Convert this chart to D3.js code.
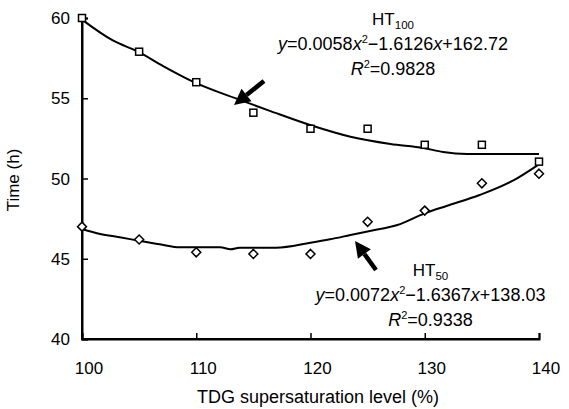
<!DOCTYPE html>
<html><head><meta charset="utf-8">
<script src="https://cdn.jsdelivr.net/npm/d3@7"></script>
<style>
html,body{margin:0;padding:0;background:#fff;}
svg text{font-family:"Liberation Sans",Arial,sans-serif;fill:#000;}
</style></head>
<body><svg id="c" width="569" height="409"></svg>
<script>
// ---- data ----
const xLevels = [100,105,110,115,120,125,130,135,140];
const ht100 = [60.0,57.9,56.0,54.1,53.1,53.1,52.1,52.1,51.05];
const ht50  = [47.0,46.2,45.4,45.3,45.3,47.3,48.0,49.7,50.3];
// fitted trend lines
const fit100X = [100,102.7,104.9,107.1,109.8,113.8,116.5,120.1,123.5,127.0,129.9,131.6,133.7,140];
const fit100Y = [59.9,58.6,57.9,57.0,56.0,54.9,54.2,53.3,52.6,52.15,51.9,51.65,51.53,51.53];
const fit50X = [100,101.6,103.3,105.0,106.8,108.6,112.1,113.0,113.8,117.0,120.0,121.7,123.5,125.2,127.6,130.0,131.9,134.8,137.8,139.9];
const fit50Y = [46.85,46.54,46.34,46.12,45.9,45.71,45.71,45.59,45.69,45.69,46.0,46.21,46.48,46.73,47.1,47.83,48.29,48.97,49.9,50.84];
const xTicks = [100,110,120,130,140];
const yTicks = [40,45,50,55,60];

const svg = d3.select("#c");
const x = d3.scaleLinear().domain([100,140]).range([82,539]);
const y = d3.scaleLinear().domain([40,60]).range([339,18]);

// axes
const xAxis = svg.append("g").attr("transform","translate(0,339)")
  .call(d3.axisBottom(x).tickValues(xTicks).tickSize(-6).tickPadding(0).tickFormat(()=>""));
const yAxis = svg.append("g").attr("transform","translate(82,0)")
  .call(d3.axisLeft(y).tickValues(yTicks).tickSize(-6).tickFormat(()=>""));
[xAxis,yAxis].forEach(g=>{
  g.select(".domain").attr("stroke","#000").attr("stroke-width",2);
  g.selectAll(".tick line").attr("stroke","#000").attr("stroke-width",1.5);
});
svg.append("line").attr("x1",81).attr("x2",540).attr("y1",339).attr("y2",339).attr("stroke","#000").attr("stroke-width",2);
svg.append("line").attr("x1",82).attr("x2",82).attr("y1",18).attr("y2",340).attr("stroke","#000").attr("stroke-width",2);

// tick labels
svg.append("g").selectAll("text").data(xTicks).join("text")
  .attr("x",d=>x(d)+7).attr("y",374).attr("text-anchor","middle")
  .attr("font-size",17).text(d=>d);
svg.append("g").selectAll("text").data(yTicks).join("text")
  .attr("x",70).attr("y",d=>y(d)+6).attr("text-anchor","end")
  .attr("font-size",17).text(d=>d);

// axis titles
svg.append("text").attr("x",318).attr("y",403).attr("text-anchor","middle")
  .attr("font-size",18).text("TDG supersaturation level (%)");
svg.append("text").attr("transform","translate(19,180) rotate(-90)")
  .attr("text-anchor","middle").attr("font-size",17).text("Time (h)");

// fit lines
const line = d3.line().curve(d3.curveMonotoneX).x(d=>x(d[0])).y(d=>y(d[1]));
svg.append("path").datum(d3.zip(fit100X,fit100Y)).attr("d",line)
  .attr("fill","none").attr("stroke","#000").attr("stroke-width",2);
svg.append("path").datum(d3.zip(fit50X,fit50Y)).attr("d",line)
  .attr("fill","none").attr("stroke","#000").attr("stroke-width",2);

// markers
svg.append("g").selectAll("rect").data(d3.zip(xLevels,ht100)).join("rect")
  .attr("x",d=>x(d[0])-3.5).attr("y",d=>y(d[1])-3.5).attr("width",7).attr("height",7)
  .attr("fill","#fff").attr("stroke","#000").attr("stroke-width",1.5);
svg.append("g").selectAll("path").data(d3.zip(xLevels,ht50)).join("path")
  .attr("transform",d=>`translate(${x(d[0])},${y(d[1])})`)
  .attr("d","M0,-4.5L4.5,0L0,4.5L-4.5,0Z")
  .attr("fill","#fff").attr("stroke","#000").attr("stroke-width",1.5);

// arrows
function arrow(x1,y1,x2,y2){ // tail -> tip
  const ang = Math.atan2(y2-y1,x2-x1);
  const L=16, W=8;
  const bx = x2 - L*Math.cos(ang), by = y2 - L*Math.sin(ang);
  svg.append("line").attr("x1",x1).attr("y1",y1).attr("x2",bx).attr("y2",by)
    .attr("stroke","#000").attr("stroke-width",4.5);
  const px=-Math.sin(ang), py=Math.cos(ang);
  svg.append("path").attr("d",`M${x2},${y2}L${bx+px*W},${by+py*W}L${bx-px*W},${by-py*W}Z`).attr("fill","#000");
}
arrow(264,81,234,105);
arrow(376,270,355,241);

// annotations
function label(cx,by,sub,a,b,c,r2){
  const t1 = svg.append("text").attr("x",cx).attr("y",by).attr("text-anchor","middle").attr("font-size",17);
  t1.append("tspan").text("HT");
  t1.append("tspan").attr("font-size",11.5).attr("dy",4).text(sub);
  const t2 = svg.append("text").attr("x",cx).attr("y",by+25).attr("text-anchor","middle").attr("font-size",18);
  t2.append("tspan").attr("font-style","italic").text("y");
  t2.append("tspan").text("="+a);
  t2.append("tspan").attr("font-style","italic").text("x");
  t2.append("tspan").attr("font-size",11).attr("dy",-7).text("2");
  t2.append("tspan").attr("dy",7).text("\u2212"+b);
  t2.append("tspan").attr("font-style","italic").text("x");
  t2.append("tspan").text("+"+c);
  const t3 = svg.append("text").attr("x",cx).attr("y",by+50).attr("text-anchor","middle").attr("font-size",18);
  t3.append("tspan").attr("font-style","italic").text("R");
  t3.append("tspan").attr("font-size",11).attr("dy",-7).text("2");
  t3.append("tspan").attr("dy",7).text("="+r2);
}
label(393,25,"100","0.0058","1.6126","162.72","0.9828");
label(430.5,276,"50","0.0072","1.6367","138.03","0.9338");
</script></body></html>
